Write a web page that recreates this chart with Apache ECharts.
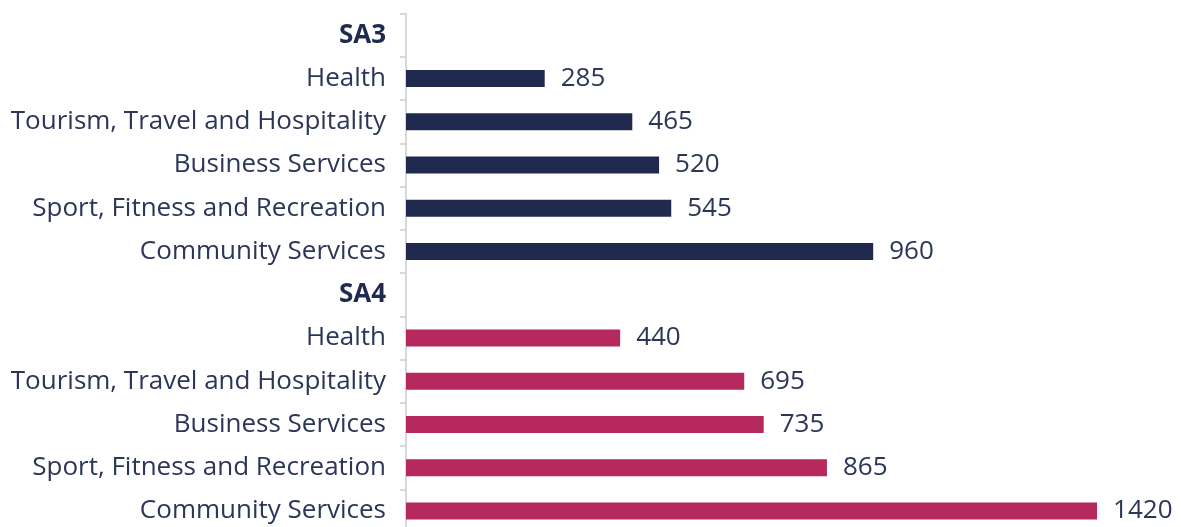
<!DOCTYPE html>
<html><head><meta charset="utf-8">
<script src="https://cdn.jsdelivr.net/npm/echarts@6/dist/echarts.min.js"></script>
<style>html,body{margin:0;padding:0;background:#fff}#c{width:1181px;height:527px}</style>
</head><body><div id="c"></div>
<script>
const categories = ['SA3','Health','Tourism, Travel and Hospitality','Business Services','Sport, Fitness and Recreation','Community Services',
                    'SA4','Health','Tourism, Travel and Hospitality','Business Services','Sport, Fitness and Recreation','Community Services'];
const headers = [0, 6];
const sa3Values = [null, 285, 465, 520, 545, 960, null, null, null, null, null, null];
const sa4Values = [null, null, null, null, null, null, null, 440, 695, 735, 865, 1420];

const chart = echarts.init(document.getElementById('c'));
const labelColor = '#2b3658';
const font = 'Open Sans';
const fs = 26;
chart.setOption({
  animation: false,
  grid: { left: 406, right: 45, top: 13.5, height: 519, outerBoundsMode: 'none', containLabel: false },
  xAxis: { type: 'value', min: 0, max: 1500, show: false },
  yAxis: {
    type: 'category', inverse: true, data: categories,
    axisLine: { show: true, lineStyle: { color: '#d9d9d9', width: 2 } },
    axisTick: { show: true, length: 6, lineStyle: { color: '#d9d9d9', width: 2 } },
    axisLabel: {
      margin: 20, fontFamily: font, fontSize: fs, color: labelColor,
      formatter: (v, i) => headers.includes(i) ? '{b|' + v + '}' : v,
      rich: { b: { fontFamily: font, fontSize: fs, fontWeight: 'bold', color: '#1f2a4e' } }
    }
  },
  series: [
    { type: 'bar', data: sa3Values, barWidth: 17, barGap: '-100%', itemStyle: { color: '#1f2a4e' },
      label: { show: true, position: 'right', distance: 16, fontFamily: font, fontSize: fs, color: labelColor } },
    { type: 'bar', data: sa4Values, barWidth: 17, barGap: '-100%', itemStyle: { color: '#b5295f' },
      label: { show: true, position: 'right', distance: 16, fontFamily: font, fontSize: fs, color: labelColor } }
  ]
});
</script></body></html>
